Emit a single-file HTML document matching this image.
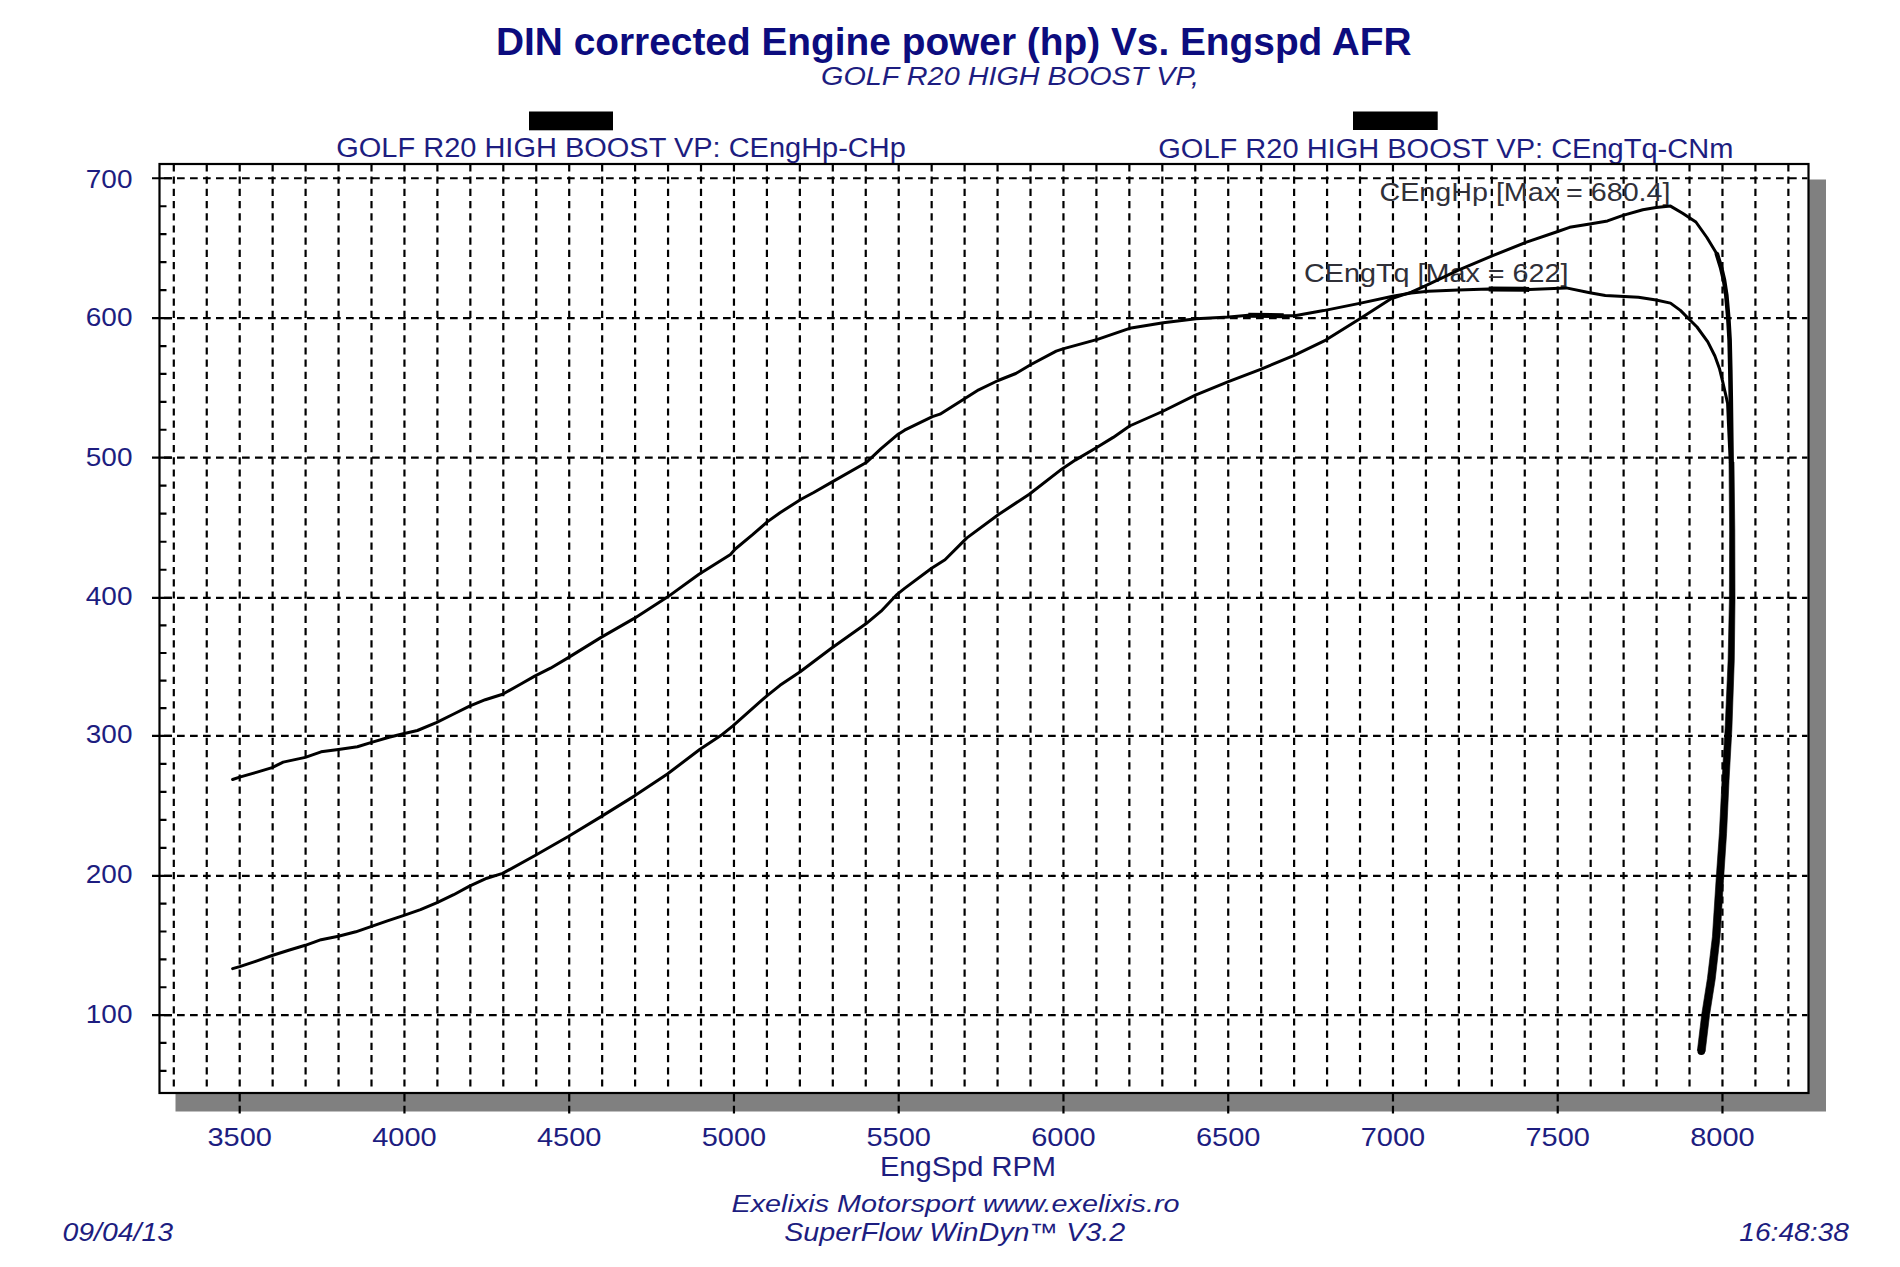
<!DOCTYPE html><html><head><meta charset="utf-8"><title>DIN corrected Engine power (hp) Vs. Engspd AFR</title>
<style>html,body{margin:0;padding:0;background:#fff;}svg{display:block;}text{font-family:"Liberation Sans",Arial,sans-serif;}</style></head><body>
<svg width="1900" height="1267" viewBox="0 0 1900 1267">
<rect x="0" y="0" width="1900" height="1267" fill="#fff"/>
<text x="496.0" y="54.8" font-size="38.8" fill="#0c0c7e" font-weight="bold" textLength="915.5" lengthAdjust="spacingAndGlyphs">DIN corrected Engine power (hp) Vs. Engspd AFR</text>
<text x="821.0" y="85.3" font-size="26" fill="#1d1d80" font-style="italic" textLength="378.0" lengthAdjust="spacingAndGlyphs">GOLF R20 HIGH BOOST VP,</text>
<rect x="529" y="111.5" width="84" height="18.8" fill="#000"/>
<rect x="1353" y="111.5" width="84.7" height="18.5" fill="#000"/>
<text x="336.3" y="157.4" font-size="27" fill="#1d1d80" textLength="569.5" lengthAdjust="spacingAndGlyphs">GOLF R20 HIGH BOOST VP: CEngHp-CHp</text>
<text x="1158.3" y="157.6" font-size="27" fill="#1d1d80" textLength="575.0" lengthAdjust="spacingAndGlyphs">GOLF R20 HIGH BOOST VP: CEngTq-CNm</text>
<rect x="175.5" y="179.5" width="1650.5" height="932.0" fill="#808080"/>
<rect x="159.5" y="164.0" width="1649.0" height="929.0" fill="#fff"/>
<path d="M173.80 164.4V1086.5M206.75 164.4V1086.5M239.70 164.4V1086.5M272.65 164.4V1086.5M305.60 164.4V1086.5M338.55 164.4V1086.5M371.50 164.4V1086.5M404.45 164.4V1086.5M437.40 164.4V1086.5M470.35 164.4V1086.5M503.31 164.4V1086.5M536.26 164.4V1086.5M569.21 164.4V1086.5M602.16 164.4V1086.5M635.11 164.4V1086.5M668.06 164.4V1086.5M701.01 164.4V1086.5M733.96 164.4V1086.5M766.91 164.4V1086.5M799.86 164.4V1086.5M832.81 164.4V1086.5M865.76 164.4V1086.5M898.71 164.4V1086.5M931.66 164.4V1086.5M964.61 164.4V1086.5M997.56 164.4V1086.5M1030.51 164.4V1086.5M1063.46 164.4V1086.5M1096.41 164.4V1086.5M1129.36 164.4V1086.5M1162.32 164.4V1086.5M1195.27 164.4V1086.5M1228.22 164.4V1086.5M1261.17 164.4V1086.5M1294.12 164.4V1086.5M1327.07 164.4V1086.5M1360.02 164.4V1086.5M1392.97 164.4V1086.5M1425.92 164.4V1086.5M1458.87 164.4V1086.5M1491.82 164.4V1086.5M1524.77 164.4V1086.5M1557.72 164.4V1086.5M1590.67 164.4V1086.5M1623.62 164.4V1086.5M1656.57 164.4V1086.5M1689.52 164.4V1086.5M1722.47 164.4V1086.5M1755.42 164.4V1086.5M1788.37 164.4V1086.5" stroke="#000" stroke-width="2.2" stroke-dasharray="7.2 5" fill="none"/>
<path d="M164 178.25H1807.5M164 318.16H1807.5M164 457.63H1807.5M164 597.80H1807.5M164 735.80H1807.5M164 875.79H1807.5M164 1015.09H1807.5" stroke="#000" stroke-width="2.2" stroke-dasharray="7.7 5.3" fill="none"/>
<path d="M239.70 1093.0V1113.5M404.45 1093.0V1113.5M569.21 1093.0V1113.5M733.96 1093.0V1113.5M898.71 1093.0V1113.5M1063.46 1093.0V1113.5M1228.22 1093.0V1113.5M1392.97 1093.0V1113.5M1557.72 1093.0V1113.5M1722.47 1093.0V1113.5" stroke="#000" stroke-width="2.2" stroke-dasharray="8.4 4.4" fill="none"/>
<path d="M152 178.25H172M152 318.16H172M152 457.63H172M152 597.80H172M152 735.80H172M152 875.79H172M152 1015.09H172" stroke="#000" stroke-width="2.2" fill="none"/>
<path d="M159.5 206.23H166.5M159.5 234.21H166.5M159.5 262.20H166.5M159.5 290.18H166.5M159.5 346.05H166.5M159.5 373.95H166.5M159.5 401.84H166.5M159.5 429.74H166.5M159.5 485.66H166.5M159.5 513.70H166.5M159.5 541.73H166.5M159.5 569.77H166.5M159.5 625.40H166.5M159.5 653.00H166.5M159.5 680.60H166.5M159.5 708.20H166.5M159.5 763.80H166.5M159.5 791.80H166.5M159.5 819.79H166.5M159.5 847.79H166.5M159.5 903.65H166.5M159.5 931.51H166.5M159.5 959.37H166.5M159.5 987.23H166.5M159.5 1042.97H166.5M159.5 1070.85H166.5" stroke="#000" stroke-width="2.2" fill="none"/>
<rect x="159.5" y="164.0" width="1649.0" height="929.0" fill="none" stroke="#000" stroke-width="2.2"/>
<text x="85.8" y="188.1" font-size="26" fill="#1d1d80" textLength="46.7" lengthAdjust="spacingAndGlyphs">700</text>
<text x="85.8" y="325.8" font-size="26" fill="#1d1d80" textLength="46.7" lengthAdjust="spacingAndGlyphs">600</text>
<text x="85.8" y="465.8" font-size="26" fill="#1d1d80" textLength="46.7" lengthAdjust="spacingAndGlyphs">500</text>
<text x="85.8" y="605.4" font-size="26" fill="#1d1d80" textLength="46.7" lengthAdjust="spacingAndGlyphs">400</text>
<text x="85.8" y="743.4" font-size="26" fill="#1d1d80" textLength="46.7" lengthAdjust="spacingAndGlyphs">300</text>
<text x="85.8" y="883.3" font-size="26" fill="#1d1d80" textLength="46.7" lengthAdjust="spacingAndGlyphs">200</text>
<text x="85.8" y="1023.1" font-size="26" fill="#1d1d80" textLength="46.7" lengthAdjust="spacingAndGlyphs">100</text>
<text x="239.7" y="1145.7" font-size="26.5" fill="#1d1d80" text-anchor="middle" textLength="64.5" lengthAdjust="spacingAndGlyphs">3500</text>
<text x="404.5" y="1145.7" font-size="26.5" fill="#1d1d80" text-anchor="middle" textLength="64.5" lengthAdjust="spacingAndGlyphs">4000</text>
<text x="569.2" y="1145.7" font-size="26.5" fill="#1d1d80" text-anchor="middle" textLength="64.5" lengthAdjust="spacingAndGlyphs">4500</text>
<text x="734.0" y="1145.7" font-size="26.5" fill="#1d1d80" text-anchor="middle" textLength="64.5" lengthAdjust="spacingAndGlyphs">5000</text>
<text x="898.7" y="1145.7" font-size="26.5" fill="#1d1d80" text-anchor="middle" textLength="64.5" lengthAdjust="spacingAndGlyphs">5500</text>
<text x="1063.5" y="1145.7" font-size="26.5" fill="#1d1d80" text-anchor="middle" textLength="64.5" lengthAdjust="spacingAndGlyphs">6000</text>
<text x="1228.2" y="1145.7" font-size="26.5" fill="#1d1d80" text-anchor="middle" textLength="64.5" lengthAdjust="spacingAndGlyphs">6500</text>
<text x="1393.0" y="1145.7" font-size="26.5" fill="#1d1d80" text-anchor="middle" textLength="64.5" lengthAdjust="spacingAndGlyphs">7000</text>
<text x="1557.7" y="1145.7" font-size="26.5" fill="#1d1d80" text-anchor="middle" textLength="64.5" lengthAdjust="spacingAndGlyphs">7500</text>
<text x="1722.5" y="1145.7" font-size="26.5" fill="#1d1d80" text-anchor="middle" textLength="64.5" lengthAdjust="spacingAndGlyphs">8000</text>
<text x="880.0" y="1176.2" font-size="27.5" fill="#1d1d80" textLength="176.0" lengthAdjust="spacingAndGlyphs">EngSpd RPM</text>
<text x="731.5" y="1212.4" font-size="24.5" fill="#1d1d80" font-style="italic" textLength="448.0" lengthAdjust="spacingAndGlyphs">Exelixis Motorsport www.exelixis.ro</text>
<text x="784.2" y="1241.3" font-size="25" fill="#1d1d80" font-style="italic" textLength="341.0" lengthAdjust="spacingAndGlyphs">SuperFlow WinDyn™ V3.2</text>
<text x="62.5" y="1241.3" font-size="26" fill="#1d1d80" font-style="italic" textLength="110.5" lengthAdjust="spacingAndGlyphs">09/04/13</text>
<text x="1739.3" y="1241.1" font-size="25" fill="#1d1d80" font-style="italic" textLength="109.5" lengthAdjust="spacingAndGlyphs">16:48:38</text>
<text x="1379.5" y="200.9" font-size="26" fill="#303038" textLength="291.0" lengthAdjust="spacingAndGlyphs">CEngHp [Max = 680.4]</text>
<text x="1304.0" y="281.6" font-size="26" fill="#303038" textLength="264.5" lengthAdjust="spacingAndGlyphs">CEngTq [Max = 622]</text>
<polyline points="232.6,779.5 239.7,777.1 256.3,772.4 272.1,767.6 283.2,762.1 305.3,757.4 321.1,751.8 338.4,749.5 357.4,746.8 371.6,742.4 389.0,737.2 403.2,733.7 417.4,730.5 436.3,722.6 453.7,714.0 469.5,706.1 485.3,699.7 502.6,694.2 520.0,684.5 534.7,676.1 550.5,668.2 567.9,657.9 601.1,637.4 634.2,618.4 667.4,597.1 699.0,574.2 730.5,554.5 735.3,549.0 752.6,534.7 766.9,522.1 780.0,512.7 801.1,499.3 813.7,492.5 831.4,482.4 866.7,462.2 881.1,448.7 897.9,434.4 904.6,430.2 932.4,416.7 940.0,414.2 965.3,398.2 978.7,389.8 998.1,380.5 1015.8,373.5 1031.0,364.5 1056.2,351.1 1062.9,348.9 1097.5,339.4 1129.6,328.3 1163.3,322.8 1196.1,318.7 1229.0,317.0 1248.3,315.2 1283.7,315.7 1294.6,315.7 1323.7,310.6 1360.7,303.1 1392.7,296.3 1411.3,292.9 1428.1,291.3 1458.4,289.9 1488.7,288.9 1529.2,289.4 1566.2,287.9 1589.8,292.8 1605.3,295.4 1638.4,297.2 1656.1,300.0 1670.5,303.1 1680.4,310.4 1688.2,318.2 1697.0,327.0 1707.8,341.8 1714.9,356.0 1719.6,369.1 1722.5,380.9 1725.5,393.9 1727.6,403.4 1728.5,424.7 1729.6,448.3 1730.2,462.0" fill="none" stroke="#000" stroke-width="3.0" stroke-linejoin="round" stroke-linecap="round"/>
<polyline points="232.6,968.6 239.7,966.6 256.3,961.1 272.1,955.5 289.5,950.0 305.3,945.3 321.1,939.7 338.4,936.3 355.8,931.8 371.6,926.3 387.4,920.8 404.0,915.3 420.5,909.7 437.1,902.6 453.7,894.7 469.5,886.1 486.9,878.2 502.6,873.4 535.5,855.3 568.7,836.3 601.1,816.6 634.2,796.1 667.4,774.0 699.7,749.5 721.1,735.3 732.9,725.8 766.9,695.8 780.0,685.3 800.2,671.8 831.4,648.2 865.9,623.8 881.1,611.2 896.2,595.2 904.6,588.4 931.6,568.2 945.0,559.8 961.9,542.9 966.9,537.9 998.9,514.3 1029.3,494.2 1062.0,468.9 1075.3,460.1 1096.7,447.5 1113.2,437.4 1129.6,426.0 1162.4,411.5 1195.4,395.2 1228.4,381.7 1261.2,369.1 1294.2,355.4 1325.8,340.1 1359.5,319.1 1391.0,298.8 1411.3,292.1 1424.7,286.2 1458.4,270.2 1492.1,255.9 1525.8,242.4 1557.8,231.5 1569.6,227.3 1589.8,223.9 1607.5,220.9 1623.0,215.4 1642.8,209.8 1656.1,207.6 1670.5,206.1 1682.6,213.2 1695.9,222.0 1706.9,237.5 1716.9,254.0" fill="none" stroke="#000" stroke-width="3.0" stroke-linejoin="round" stroke-linecap="round"/>
<polyline points="1716.9,254.0 1721.3,268.4 1724.0,280.0 1726.3,295.0 1728.3,318.0 1729.6,340.0 1730.3,370.0 1730.8,400.0 1731.3,440.0 1731.6,462.0" fill="none" stroke="#000" stroke-width="4.6" stroke-linejoin="round" stroke-linecap="round"/>
<polygon points="1729.0,462.0 1729.6,530.0 1729.4,600.0 1728.1,659.9 1725.1,728.8 1722.0,780.8 1719.4,832.8 1716.1,879.8 1712.4,936.7 1707.4,978.5 1701.7,1014.5 1697.4,1050.5 1705.2,1051.5 1709.5,1015.5 1715.2,979.5 1720.0,937.3 1723.5,880.2 1726.6,833.2 1729.0,781.2 1731.9,729.2 1734.3,660.1 1735.0,600.0 1734.8,530.0 1734.0,462.0" fill="#000" stroke="#000" stroke-width="0.6" stroke-linejoin="round"/>
<circle cx="1701.3" cy="1051.0" r="3.90" fill="#000"/>
<path d="M1248.3 315.2L1283.7 315.7M1488.7 288.9L1529.2 289.4" stroke="#000" stroke-width="5" fill="none"/>
</svg></body></html>
